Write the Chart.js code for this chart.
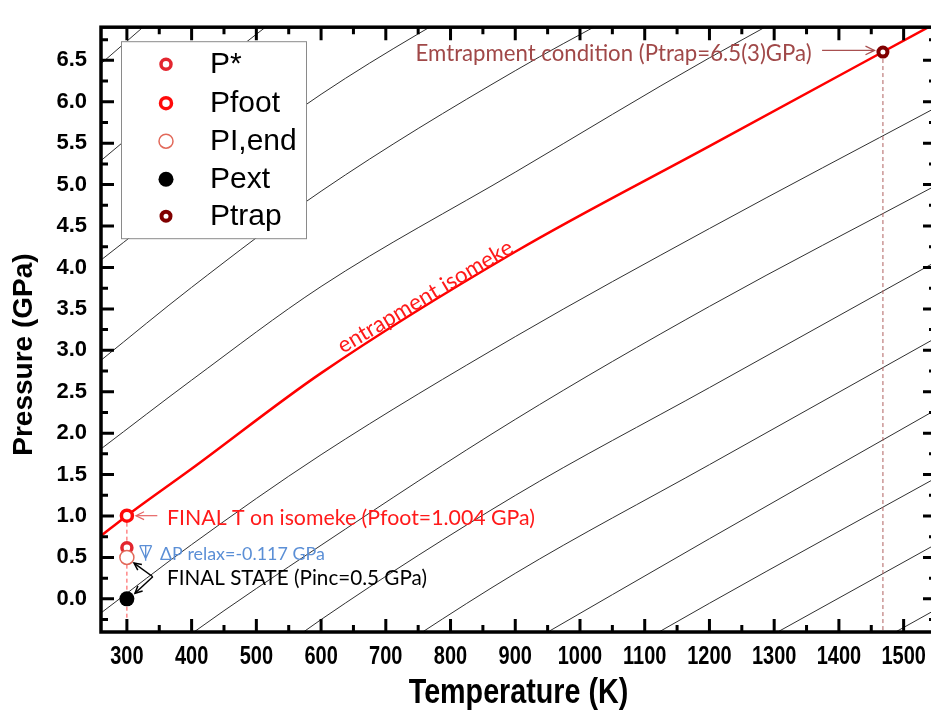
<!DOCTYPE html>
<html>
<head>
<meta charset="utf-8">
<style>
html,body{margin:0;padding:0;background:#fff;overflow:hidden;}
#wrap{width:945px;height:711px;}
</style>
<script src="https://cdn.jsdelivr.net/npm/chart.js@4.4.1/dist/chart.umd.min.js"></script>
</head>
<body>
<div id="wrap"><canvas id="c" width="945" height="711"></canvas></div>
<script>
// ---------------- data ----------------
const xTicks = [300, 400, 500, 600, 700, 800, 900, 1000, 1100, 1200, 1300, 1400, 1500];
const xTickLabels = ['300','400','500','600','700','800','900','1000','1100','1200','1300','1400','1500'];
const yTicks = [0, 0.5, 1, 1.5, 2, 2.5, 3, 3.5, 4, 4.5, 5, 5.5, 6, 6.5];
const yTickLabels = ['0.0','0.5','1.0','1.5','2.0','2.5','3.0','3.5','4.0','4.5','5.0','5.5','6.0','6.5'];
const xTitle = 'Temperature (K)';
const yTitle = 'Pressure (GPa)';
const T_MIN = 260, T_MAX = 1550, P_MIN = -0.4, P_MAX = 6.9;

// isochores (black thin lines): pressure (GPa) read at these temperatures (K)
const isoT  = [260, 400, 600, 900, 1200, 1550];
const iso1P  = [6.46, 7.41, null, null, null, null];
const iso2P  = [5.29, 6.20, 7.42, null, null, null];
const iso3P  = [4.09, 4.94, 6.09, 7.51, null, null];
const iso4P  = [2.88, 3.76, 4.92, 6.375, 7.64, null];
const iso5P  = [1.81, 2.64, 3.77, 5.15, 6.53, 8.0];
const iso7P  = [-0.17, 0.655, 1.74, 3.165, 4.47, 5.93];
const iso8P  = [-1.256, -0.42, 0.647, 2.166, 3.53, 4.99];
const iso9P  = [null, -1.39, -0.25, 1.248, 2.55, 4.07];
const iso10P = [null, null, -1.20, 0.308, 1.62, 3.15];
const iso11P = [null, null, null, -0.627, 0.726, 2.283];
const iso12P = [null, null, null, -1.40, -0.053, 1.46];
const iso13P = [null, null, null, null, -0.856, 0.66];
const iso14P = [null, null, null, null, -1.65, -0.128];

// entrapment isomeke (red line)
const isomekeT = [260, 300, 400, 600, 900, 1200, 1550];
const isomekeP = [0.76, 1.004, 1.57, 2.725, 4.19, 5.465, 6.95];

// state points
const markerNames = ['P*', 'Pfoot', 'PI,end', 'Pext', 'Ptrap'];
const markerT = [300, 300, 300, 300, 1468];
const markerP = [0.617, 1.004, 0.5, 0.0, 6.6];

// ---------------- helpers ----------------
function pts(T, P) {
  const out = [];
  T.forEach((t, i) => { if (P[i] !== null) out.push({x: t, y: P[i]}); });
  return out;
}
const SANS = "'Liberation Sans', Arial, sans-serif";
const CAL = "Lato, 'Open Sans', sans-serif";

const isoList = [iso1P, iso2P, iso3P, iso4P, iso5P, iso7P, iso8P, iso9P, iso10P, iso11P, iso12P, iso13P, iso14P];
const datasets = [];

// markers (lower order = drawn on top)
const markerStyles = [
  {r: 5,   bw: 3.5, border: '#e3262f', fill: '#ffffff', order: 2},
  {r: 5.5, bw: 3.5, border: '#ff0a0a', fill: '#ffffff', order: 0},
  {r: 7,   bw: 1.5, border: '#e2695a', fill: '#ffffff', order: 1},
  {r: 7.5, bw: 0,   border: '#000000', fill: '#000000', order: 1},
  {r: 4.5, bw: 4,   border: '#800000', fill: '#ffffff', order: 0}
];
markerNames.forEach((name, i) => {
  const s = markerStyles[i];
  datasets.push({
    label: name,
    data: [{x: markerT[i], y: markerP[i]}],
    showLine: false,
    pointRadius: s.r,
    pointBorderWidth: s.bw,
    pointBorderColor: s.border,
    pointBackgroundColor: s.fill,
    order: s.order,
    clip: false
  });
});

// dashed drop lines
datasets.push({
  label: 'drop-foot', data: [{x: markerT[1], y: markerP[1]}, {x: markerT[1], y: P_MIN}],
  showLine: true, borderColor: '#ff4a4a', borderWidth: 1, borderDash: [4, 3], pointRadius: 0, order: 6
});
datasets.push({
  label: 'drop-trap', data: [{x: markerT[4], y: markerP[4]}, {x: markerT[4], y: P_MIN}],
  showLine: true, borderColor: '#b0605f', borderWidth: 1, borderDash: [4, 3], pointRadius: 0, order: 6
});

// red isomeke
datasets.push({
  label: 'entrapment isomeke', data: pts(isomekeT, isomekeP),
  showLine: true, borderColor: '#ff0000', borderWidth: 2.5, pointRadius: 0,
  cubicInterpolationMode: 'monotone', order: 5
});

// isochores
isoList.forEach((P, i) => {
  datasets.push({
    label: 'iso' + i, data: pts(isoT, P),
    showLine: true, borderColor: '#303030', borderWidth: 1, pointRadius: 0,
    cubicInterpolationMode: 'monotone', order: 10
  });
});

function fitFont(ctx, text, family, targetW, weight) {
  ctx.font = (weight || 'normal') + ' 20px ' + family;
  const w = ctx.measureText(text).width;
  let size = 20 * targetW / w;
  size = Math.max(12, Math.min(30, size));
  return (weight || 'normal') + ' ' + size.toFixed(2) + 'px ' + family;
}
function fitText(ctx, text, x, y, w, color, family, weight) {
  ctx.font = fitFont(ctx, text, family || CAL, w, weight);
  ctx.fillStyle = color;
  ctx.textAlign = 'left';
  ctx.textBaseline = 'middle';
  ctx.fillText(text, x, y);
}
function arrow(ctx, x1, y1, x2, y2, color, lw, head) {
  const ang = Math.atan2(y2 - y1, x2 - x1);
  const h = head || 9, spread = 0.45;
  ctx.strokeStyle = color; ctx.lineWidth = lw;
  ctx.beginPath(); ctx.moveTo(x1, y1); ctx.lineTo(x2, y2); ctx.stroke();
  ctx.beginPath();
  ctx.moveTo(x2 - h * Math.cos(ang - spread), y2 - h * Math.sin(ang - spread));
  ctx.lineTo(x2, y2);
  ctx.lineTo(x2 - h * Math.cos(ang + spread), y2 - h * Math.sin(ang + spread));
  ctx.stroke();
}
// condensed bold text (Arial Narrow look)
function narrowText(ctx, text, x, y, size, squeeze) {
  ctx.save();
  ctx.translate(x, y);
  ctx.scale(squeeze, 1);
  ctx.font = 'bold ' + size + 'px ' + SANS;
  ctx.fillStyle = '#000';
  ctx.textAlign = 'center'; ctx.textBaseline = 'middle';
  ctx.fillText(text, 0, 0);
  ctx.restore();
}

const overlay = {
  id: 'overlay',
  afterDatasetsDraw(chart) {
    const {ctx, chartArea: a} = chart;
    const X = v => chart.scales.x.getPixelForValue(v);
    const Y = v => chart.scales.y.getPixelForValue(v);
    ctx.save();

    // annotations
    fitText(ctx, 'Emtrapment condition (Ptrap=6.5(3)GPa)', X(746), Y(6.58), 396, '#a04848');
    arrow(ctx, X(1374), Y(6.62), X(1455), Y(6.62), '#a85050', 1.3, 10);

    fitText(ctx, 'FINAL T on isomeke (Pfoot=1.004 GPa)', X(362), Y(0.972), 368, '#ff1a1a');
    arrow(ctx, X(347), Y(1.004), X(314), Y(1.004), '#e66464', 1.2, 9);

    fitText(ctx, '\u0394P relax=-0.117 GPa', X(351), Y(0.537), 165, '#5b8fd6');
    {
      const sx = X(329), yt = Y(0.643), yb = Y(0.46);
      ctx.strokeStyle = '#5b8fd6'; ctx.lineWidth = 1.3;
      ctx.beginPath();
      ctx.moveTo(sx - 6, yt); ctx.lineTo(sx + 6, yt);
      ctx.moveTo(sx - 6, yt); ctx.lineTo(sx, yb - 2); ctx.lineTo(sx + 6, yt);
      ctx.moveTo(sx, yt); ctx.lineTo(sx, yb);
      ctx.stroke();
    }

    fitText(ctx, 'FINAL STATE (Pinc=0.5 GPa)', X(362), Y(0.243), 260, '#000000');
    arrow(ctx, X(340), Y(0.267), X(311), Y(0.432), '#000000', 1.5, 8);
    arrow(ctx, X(340), Y(0.267), X(312.5), Y(0.067), '#000000', 1.5, 8);

    // rotated label along the isomeke
    {
      const cx = X(761), cy = Y(3.648);
      ctx.save();
      ctx.translate(cx, cy);
      ctx.rotate(-30.7 * Math.PI / 180);
      ctx.font = fitFont(ctx, 'entrapment isomeke', CAL, 200);
      ctx.fillStyle = '#ff1a1a';
      ctx.textAlign = 'center'; ctx.textBaseline = 'middle';
      ctx.fillText('entrapment isomeke', 0, 0);
      ctx.restore();
    }

    // legend box
    const lx = a.left + 20, ly = a.top + 14, lw = 185, lh = 197;
    ctx.fillStyle = '#ffffff';
    ctx.fillRect(lx, ly, lw, lh);
    ctx.strokeStyle = '#8a8a8a'; ctx.lineWidth = 1;
    ctx.strokeRect(lx + 0.5, ly + 0.5, lw, lh);
    const rowY = [23, 62, 100, 138, 175];
    markerNames.forEach((name, i) => {
      const s = markerStyles[i];
      const my = ly + rowY[i];
      ctx.beginPath();
      ctx.arc(lx + 45, my, s.r, 0, Math.PI * 2);
      ctx.fillStyle = s.fill; ctx.fill();
      if (s.bw > 0) { ctx.lineWidth = s.bw; ctx.strokeStyle = s.border; ctx.stroke(); }
      ctx.fillStyle = '#000';
      ctx.font = '30px ' + SANS;
      ctx.textAlign = 'left'; ctx.textBaseline = 'middle';
      ctx.fillText(name, lx + 89, my + 1);
    });
    ctx.restore();
  },
  afterDraw(chart) {
    const {ctx, chartArea: a} = chart;
    const xs = chart.scales.x, ys = chart.scales.y;
    ctx.save();
    ctx.strokeStyle = '#000';
    ctx.lineWidth = 3;
    ctx.lineCap = 'butt';
    const MAJ = 13, MIN = 7;
    ctx.beginPath();
    xTicks.forEach(v => {
      const p = xs.getPixelForValue(v);
      ctx.moveTo(p, a.bottom); ctx.lineTo(p, a.bottom - MAJ);
      ctx.moveTo(p, a.top); ctx.lineTo(p, a.top + MAJ);
    });
    const xStep = xTicks[1] - xTicks[0];
    for (let v = xTicks[0] - xStep / 2; v < T_MAX; v += xStep) {
      if (v <= T_MIN) continue;
      const p = xs.getPixelForValue(v);
      ctx.moveTo(p, a.bottom); ctx.lineTo(p, a.bottom - MIN);
      ctx.moveTo(p, a.top); ctx.lineTo(p, a.top + MIN);
    }
    yTicks.forEach(v => {
      const p = ys.getPixelForValue(v);
      ctx.moveTo(a.left, p); ctx.lineTo(a.left + MAJ, p);
      ctx.moveTo(a.right, p); ctx.lineTo(a.right - MAJ, p);
    });
    const yStep = yTicks[1] - yTicks[0];
    for (let v = yTicks[0] - yStep / 2; v < P_MAX; v += yStep) {
      if (v <= P_MIN) continue;
      const p = ys.getPixelForValue(v);
      ctx.moveTo(a.left, p); ctx.lineTo(a.left + MIN, p);
      ctx.moveTo(a.right, p); ctx.lineTo(a.right - MIN, p);
    }
    ctx.stroke();
    ctx.lineWidth = 3.5;
    ctx.strokeRect(a.left, a.top, a.right - a.left, a.bottom - a.top);

    // x tick labels (condensed bold) and x title
    xTicks.forEach((v, i) => {
      narrowText(ctx, xTickLabels[i], xs.getPixelForValue(v), a.bottom + 25, 25, 0.8);
    });
    narrowText(ctx, xTitle, (a.left + a.right) / 2, a.bottom + 61, 35, 0.82);

    // y axis title
    ctx.save();
    ctx.translate(24, (a.top + a.bottom) / 2 + 25);
    ctx.rotate(-Math.PI / 2);
    ctx.font = 'bold 28px ' + SANS;
    ctx.fillStyle = '#000';
    ctx.textAlign = 'center'; ctx.textBaseline = 'middle';
    ctx.fillText(yTitle, 0, 0);
    ctx.restore();
    ctx.restore();
  }
};

Chart.defaults.font.family = SANS;
Chart.defaults.color = '#000';

new Chart(document.getElementById('c'), {
  type: 'scatter',
  data: {datasets},
  options: {
    responsive: false,
    animation: false,
    events: [],
    layout: {padding: {left: 0, top: 11, right: 8, bottom: 0}},
    plugins: {legend: {display: false}, tooltip: {enabled: false}},
    scales: {
      x: {
        type: 'linear', min: T_MIN, max: T_MAX,
        afterBuildTicks: s => { s.ticks = xTicks.map(v => ({value: v})); },
        afterFit: s => { s.height = 79; },
        grid: {display: false, drawTicks: false},
        border: {display: false},
        ticks: {display: false, autoSkip: false, maxRotation: 0, callback: (v, i) => xTickLabels[i]},
        title: {display: false, text: xTitle}
      },
      y: {
        type: 'linear', min: P_MIN, max: P_MAX,
        afterBuildTicks: s => { s.ticks = yTicks.map(v => ({value: v})); },
        afterFit: s => { s.width = 101; },
        grid: {display: false, drawTicks: false},
        border: {display: false},
        ticks: {
          autoSkip: false, padding: 14, color: '#000',
          font: {family: SANS, size: 22, weight: 'bold'},
          callback: (v, i) => yTickLabels[i]
        }
      }
    }
  },
  plugins: [overlay]
});
</script>
</body>
</html>
